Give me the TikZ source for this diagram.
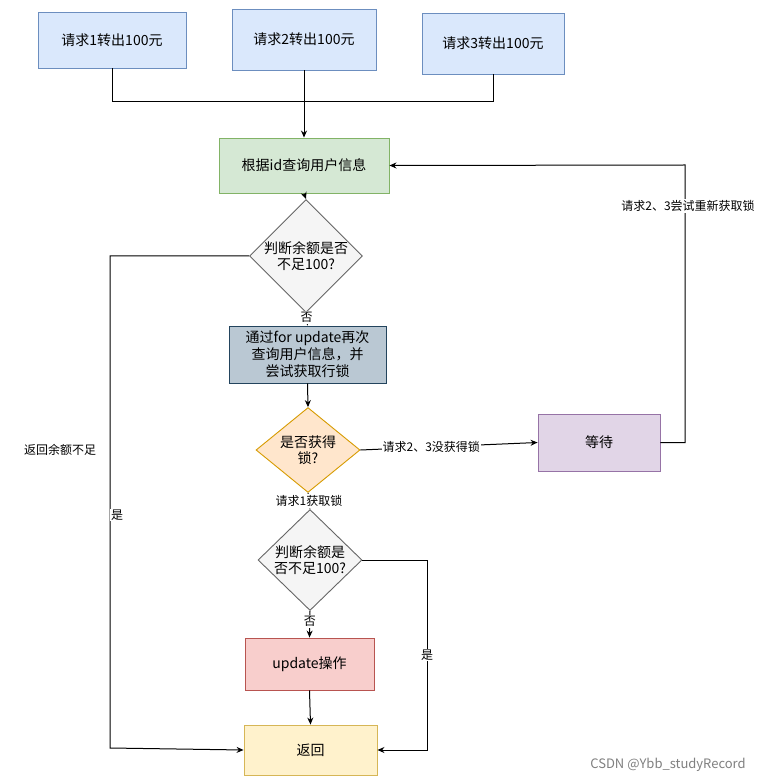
\documentclass[tikz,border=0pt]{standalone}
\usepackage{fontspec}
\setmainfont{Noto Sans CJK SC}
\usetikzlibrary{shapes.geometric,arrows.meta}
\definecolor{bfill}{HTML}{DAE8FC}\definecolor{bdraw}{HTML}{6C8EBF}
\definecolor{gfill}{HTML}{D5E8D4}\definecolor{gdraw}{HTML}{82B366}
\definecolor{nfill}{HTML}{F5F5F5}\definecolor{ndraw}{HTML}{666666}
\definecolor{sfill}{HTML}{BAC8D3}\definecolor{sdraw}{HTML}{23445D}
\definecolor{ofill}{HTML}{FFE6CC}\definecolor{odraw}{HTML}{D79B00}
\definecolor{pfill}{HTML}{E1D5E7}\definecolor{pdraw}{HTML}{9673A6}
\definecolor{rfill}{HTML}{F8CECC}\definecolor{rdraw}{HTML}{B85450}
\definecolor{yfill}{HTML}{FFF2CC}\definecolor{ydraw}{HTML}{D6B656}
\begin{document}
\begin{tikzpicture}[x=1pt,y=-1pt,
 box/.style={draw=#1,line width=0.9pt,inner sep=0pt,font=\fontsize{14}{17}\selectfont,align=center},
 dia/.style={diamond,draw=#1,line width=0.9pt,inner sep=0pt,font=\fontsize{14}{16}\selectfont,align=center},
 lab/.style={fill=white,inner sep=1pt,font=\fontsize{12}{14}\selectfont},
 ar/.style={-{Stealth[length=7pt,width=6pt]},line width=1pt},
 ln/.style={line width=1pt}]
\useasboundingbox (0,0) rectangle (784,783);
\fill[white] (0,0) rectangle (784,783);
\node[box=bdraw,fill=bfill,minimum width=148pt,minimum height=56pt] (r1) at (112,40) {请求1转出100元};
\node[box=bdraw,fill=bfill,minimum width=144pt,minimum height=61pt] (r2) at (304,39.5) {请求2转出100元};
\node[box=bdraw,fill=bfill,minimum width=142pt,minimum height=61pt] (r3) at (493,43.5) {请求3转出100元};
\node[box=gdraw,fill=gfill,minimum width=170pt,minimum height=55pt] (q) at (304,165.5) {根据id查询用户信息};
\node[dia=ndraw,fill=nfill,minimum width=112pt,minimum height=74pt] (d1) at (306,256) {判断余额是否\\不足100?};
\node[box=sdraw,fill=sfill,minimum width=157pt,minimum height=57pt] (b2) at (307.5,354.5) {通过for update再次\\查询用户信息，并\\尝试获取行锁};
\node[dia=odraw,fill=ofill,minimum width=104pt,minimum height=84pt] (d2) at (308,450) {是否获得\\锁?};
\node[box=pdraw,fill=pfill,minimum width=122pt,minimum height=57pt] (w) at (599,442.5) {等待};
\node[dia=ndraw,fill=nfill,minimum width=104pt,minimum height=83pt] (d3) at (310,560) {判断余额是\\否不足100?};
\node[box=rdraw,fill=rfill,minimum width=129pt,minimum height=52pt] (u) at (309.5,664) {update操作};
\node[box=ydraw,fill=yfill,minimum width=133pt,minimum height=50pt] (f) at (310.5,750) {返回};
\draw[ln] (r1.south) -- (112,102) -- (304,102);
\draw[ln] (r3.south) -- (493,102) -- (304,102);
\draw[ar] (r2.south) -- (q.north);
\draw[ar] (q.south) -- (d1.north);
\draw[ar] (d1.west) -- (110,256) -- (110,748) -- (f.west);
\node[lab] (l1) at (60,450) {返回余额不足};
\node[lab] (l2) at (117,515) {是};
\draw[ar] (d1.south) -- (b2.north) node[lab,pos=0.35] {否};
\draw[ar] (b2.south) -- (d2.north);
\draw[ar] (d2.east) -- (w.west) node[lab,pos=0.4] {请求2、3没获得锁};
\draw[ar] (w.east) -- (685,442.5) -- (685,165) -- (q.east);
\node[lab] (l3) at (688,206) {请求2、3尝试重新获取锁};
\draw[ar] (d2.south) -- (d3.north) node[lab,midway] {请求1获取锁};
\draw[ar] (d3.south) -- (u.north) node[lab,pos=0.4] {否};
\draw[ar] (d3.east) -- (427,560) -- (427,750) -- (f.east);
\node[lab] (l4) at (427,655) {是};
\draw[ar] (u.south) -- (f.north);
\node[font=\fontsize{13}{15}\selectfont,text=gray] (wm) at (668,765) {CSDN @Ybb\_studyRecord};
\end{tikzpicture}
\end{document}
